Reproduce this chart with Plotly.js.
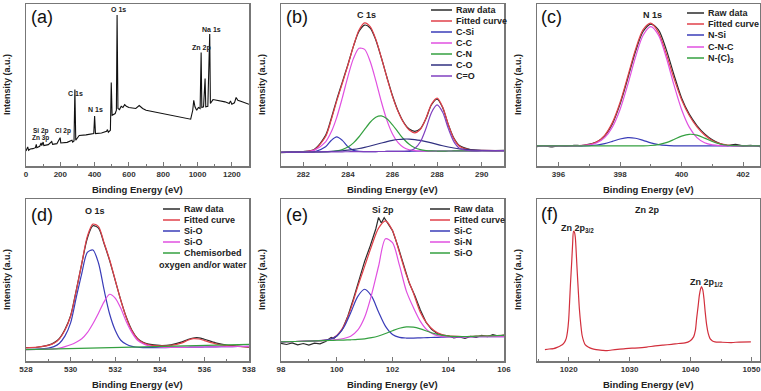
<!DOCTYPE html>
<html>
<head>
<meta charset="utf-8">
<script src="https://cdn.plot.ly/plotly-3.0.1.min.js"></script>
<style>html,body{margin:0;padding:0;background:#fff;}#chart{width:761px;height:391px;}</style>
</head>
<body>
<div id="chart"></div>
<script>
// ---------- (a) survey ----------
const surveyEnergy = [0,10,15,25,40,55,60,63,80,88,92,100,104,130,150,155,180,199,203,240,268,272,280,285,290,300,310,350,395,400,405,440,470,475,480,492,497,502,520,527,531,536,545,555,565,575,585,600,640,660,680,700,800,900,960,972,978,985,995,1005,1015,1021,1025,1035,1044,1048,1060,1071,1075,1090,1120,1160,1185,1192,1200,1215,1225,1235,1260,1300];
const surveyCounts = [9.3,11.8,9.7,10.5,10.7,11.3,13.4,11.3,12.2,14.2,12.6,14.8,12.6,13.2,15.1,13.4,13.8,17.5,14.2,14.6,15.9,14.8,15.5,47.2,15.9,17.5,18.8,19.2,20,30.9,20,20.4,21.4,22.5,20.8,22.1,51.5,31.3,32.4,34.4,93.2,35.5,34.8,36.9,36.1,37.9,36.9,36.1,35.5,37.3,35.5,34.4,32.4,30.3,28.9,34.4,40.6,36.5,34.4,36.1,35.5,70.1,36.1,36.5,54.0,36.5,36.9,81.4,38.6,41.0,40.6,39.6,38.6,40.2,38.1,39.0,42.3,40.6,39.6,38.1];
const surveyLabels = ["O 1s","Na 1s","Zn 2p","C 1s","N 1s","Si 2p","Cl 2p","Zn 3p"];

// ---------- (b) C 1s ----------
const c1sEnergy = [281,281.5,282,282.5,283,283.25,283.5,283.75,284,284.25,284.5,284.75,285,285.25,285.5,285.75,286,286.25,286.5,286.75,287,287.25,287.5,287.75,288,288.25,288.5,288.75,289,289.5,290,291];
const c1sRaw = [8.3,8.6,8.9,10.4,18.9,29.2,41.0,51.8,62.6,74.0,83.2,87.0,85.2,77.8,66.8,54.8,43.4,34.0,27.0,22.8,21.4,23.0,29.2,37.8,41.2,36.0,25.6,17.2,12.6,10.1,9.5,9.6];
const c1sFit = [8.5,8.55,8.74,9.96,18.25,28.4,40.2,51.1,62.2,74.1,83.9,88.3,86.0,78.3,66.9,54.5,43.0,33.6,26.7,22.2,20.5,22.7,29.4,38.3,41.9,36.4,25.7,16.9,12.26,9.96,9.61,9.52];
const c1sCSi = [8.5,8.55,8.6,8.77,11.82,15.75,17.95,15.8,11.92,9.64,8.97,8.89,8.9,8.93,8.95,8.98,9.0,9.03,9.05,9.08,9.1,9.13,9.15,9.18,9.2,9.23,9.25,9.28,9.3,9.35,9.4,9.5];
const c1sCC = [8.5,8.55,8.73,9.8,14.92,20.93,30.05,42.08,55.2,66.43,72.65,71.98,64.5,52.73,39.65,28.18,19.8,14.38,11.43,10.03,9.43,9.23,9.15,9.18,9.2,9.23,9.25,9.28,9.3,9.35,9.4,9.5];
const c1sCN = [8.5,8.55,8.6,8.65,8.77,8.94,9.31,10.14,11.69,14.31,18.05,22.58,27.0,30.13,30.95,29.18,25.4,20.93,16.65,13.39,11.26,10.1,9.53,9.31,9.24,9.23,9.25,9.28,9.3,9.35,9.4,9.5];
const c1sCO = [8.5,8.55,8.61,8.69,8.84,8.97,9.14,9.4,9.74,10.21,10.79,11.51,12.34,13.25,14.17,15.06,15.8,16.35,16.63,16.63,16.33,15.8,15.06,14.23,13.34,12.5,11.74,11.1,10.58,9.91,9.61,9.52];
const c1sCdO = [8.5,8.55,8.6,8.65,8.7,8.73,8.75,8.78,8.8,8.83,8.85,8.88,8.9,8.93,8.95,8.98,9.0,9.03,9.1,9.42,10.78,14.93,23.15,33.08,37.7,33.13,23.25,15.08,10.98,9.4,9.4,9.5];
const c1sNames = ["Raw data","Fitted curve","C-Si","C-C","C-N","C-O","C=O"];

// ---------- (c) N 1s ----------
const n1sRawEnergy = [395.3,395.5,395.75,396,396.25,396.5,396.75,397,397.25,397.5,397.75,398,398.25,398.5,398.75,399,399.25,399.5,399.75,400,400.25,400.5,400.75,401,401.25,401.5,401.75,402,402.25,402.55];
const n1sRaw = [12.0,12.6,11.8,12.5,12.2,12.8,12.6,13.5,15.0,18.6,26.0,38.2,54.0,70.5,83.0,87.6,84.0,72.0,56.5,42.0,32.0,25.0,19.8,16.2,13.8,12.6,13.4,12.3,12.8,11.9];
const n1sEnergy = [395.3,396,396.5,397,397.25,397.5,397.75,398,398.25,398.5,398.75,399,399.25,399.5,399.75,400,400.25,400.5,400.75,401,401.25,401.5,402,402.55];
const n1sFit = [12.4,12.4,12.46,13.22,14.93,18.97,26.78,39.16,55.27,71.81,84.16,88.15,82.34,69.39,54.21,40.92,31.18,24.2,19.17,15.75,13.78,12.85,12.42,12.4];
const n1sNSi = [12.4,12.4,12.41,12.57,12.96,13.82,15.18,16.66,17.47,17.11,15.8,14.31,13.24,12.69,12.48,12.41,12.4,12.4,12.4,12.4,12.4,12.4,12.4,12.4];
const n1sCNC = [12.4,12.4,12.45,13.05,14.37,17.55,24.0,34.9,50.2,67.1,80.7,86.0,80.7,67.1,50.2,34.9,24.0,17.55,14.37,13.05,12.6,12.45,12.4,12.4];
const n1sNC3 = [12.4,12.4,12.4,12.4,12.4,12.4,12.4,12.4,12.4,12.4,12.46,12.64,13.2,14.4,16.33,18.41,19.58,19.05,17.2,15.1,13.58,12.8,12.42,12.4];
const n1sNames = ["Raw data","Fitted curve","N-Si","C-N-C","N-(C)<sub>3</sub>"];

// ---------- (d) O 1s ----------
const o1sEnergy = [528,528.5,529,529.25,529.5,529.75,530,530.25,530.5,530.75,531,531.25,531.5,531.75,532,532.25,532.5,532.75,533,533.25,533.5,534,534.5,535,535.25,535.5,535.75,536,536.5,537,537.5,538];
const o1sRaw = [8.3,8.5,9.8,11.2,14.0,19.6,28.0,43.5,60.0,75.8,83.5,82.0,72.5,62.0,49.8,37.6,27.0,19.0,14.0,11.6,10.4,9.6,10.0,11.8,13.2,14.2,14.3,13.4,11.2,9.8,9.2,8.6];
const o1sFit = [8.1,8.6,9.6,10.9,13.7,19.1,27.6,43.2,60.2,76.9,84.5,83.0,73.0,62.5,50.0,37.5,26.6,18.6,13.6,11.2,10.0,9.3,9.6,11.2,12.8,13.8,13.6,12.6,10.6,9.5,9.0,8.7];
const o1sSiOa = [7.1,7.4,8.0,8.9,11.0,15.5,23.5,39.0,54.0,67.0,68.5,60.5,44.0,29.0,19.0,12.8,10.3,9.0,8.5,8.3,8.25,8.25,8.35,8.45,8.5,8.55,8.6,8.65,8.75,8.85,8.95,9.05];
const o1sSiOb = [7.0,7.1,7.3,7.5,8.0,8.9,10.0,11.6,13.7,17.5,23.0,29.5,36.5,41.2,38.8,32.5,24.2,17.5,12.8,10.6,9.4,8.6,8.4,8.45,8.5,8.55,8.6,8.65,8.75,8.85,8.95,9.05];
const o1sChemEnergy = [528,533,538];
const o1sChem = [7.0,8.65,10.3];
const o1sNames = ["Raw data","Fitted curve","Si-O","Si-O","Chemisorbed"];

// ---------- (e) Si 2p ----------
const si2pRawEnergy = [98,98.2,98.4,98.6,98.8,99.0,99.2,99.4,99.6,99.8,99.9,100.0,100.2,100.4,100.6,100.8,101.0,101.2,101.4,101.5,101.6,101.7,101.8,102.0,102.2,102.4,102.6,102.8,103.0,103.2,103.4,103.6,103.8,104.0,104.2,104.4,104.6,104.8,105.0,105.2,105.4,105.6,105.8,106];
const si2pRaw = [10.9,10.2,11.2,10.0,10.8,9.8,11.0,10.6,12.0,14.6,14.0,15.4,19.5,27.8,38.5,50.8,61.5,71.0,81.5,88.6,85.2,88.4,86.0,80.5,70.5,58.5,48.2,40.5,31.5,24.0,19.5,17.0,16.0,15.6,14.2,14.8,13.9,15.2,14.6,15.8,15.0,16.3,15.4,16.0];
const si2pEnergy = [98,98.5,99,99.5,99.75,100,100.25,100.5,100.75,101,101.25,101.5,101.75,102,102.25,102.5,102.75,103,103.25,103.5,103.75,104,104.5,105,105.5,106];
const si2pFit = [11.8,12.05,12.3,12.72,13.45,15.82,21.63,32.05,45.75,58.41,71.0,82.0,86.51,80.51,67.0,53.0,42.0,30.01,22.92,18.7,16.48,15.48,15.13,15.3,15.55,15.8];
const si2pSiC = [11.8,12.05,12.3,12.67,13.33,15.42,20.66,29.75,39.78,44.3,40.03,30.25,21.41,16.42,14.58,14.17,14.18,14.3,14.43,14.55,14.68,14.8,14.9,15.0,15.0,15.0];
const si2pSiN = [11.8,12.05,12.3,12.6,12.8,13.2,13.9,15.3,19.0,27.0,41.0,58.5,75.5,73.0,59.0,43.0,33.0,24.5,19.0,16.3,15.2,14.9,14.9,15.0,15.0,15.0];
const si2pSiO = [11.8,12.05,12.3,12.55,12.68,12.8,12.93,13.1,13.33,13.71,14.38,15.45,16.96,18.69,20.22,21.05,20.86,19.81,18.35,16.95,15.96,15.38,15.13,15.3,15.55,15.8];
const si2pNames = ["Raw data","Fitted curve","Si-C","Si-N","Si-O"];

// ---------- (f) Zn 2p ----------
const zn2pEnergy = [1016.1,1016.8,1017.5,1018.1,1018.6,1019.0,1019.35,1019.6,1019.8,1020.0,1020.15,1020.3,1020.5,1020.65,1020.8,1020.95,1021.1,1021.25,1021.4,1021.6,1021.75,1022.0,1022.2,1022.45,1022.7,1023.2,1023.8,1024.5,1025.5,1026.3,1027.1,1028.0,1029.3,1030.4,1031.5,1032.8,1034.2,1035.5,1036.9,1038.0,1039.1,1039.9,1040.5,1040.8,1041.0,1041.25,1041.45,1041.65,1041.8,1042.0,1042.2,1042.4,1042.65,1042.9,1043.2,1043.6,1044.0,1045.0,1046.7,1048.0,1049.9];
const zn2pCounts = [7.0,7.4,7.6,8.4,9.3,10.2,11.8,14.0,18.0,25.5,36.6,48.0,61.4,72.5,80.0,79.5,75.8,66.0,55.2,42.0,32.4,22.0,15.9,12.3,10.1,8.6,7.6,7.0,6.6,6.4,6.8,7.2,7.6,7.9,8.1,8.6,9.3,9.8,10.3,10.8,11.2,12.4,14.9,19.0,26.2,34.0,40.7,44.5,45.9,44.0,38.6,30.5,22.1,17.0,13.8,12.4,11.8,11.6,11.4,11.7,11.8];
const zn2pLabels = ["Zn 2p<sub>3/2</sub>","Zn 2p<sub>1/2</sub>"];

const panelTitles = ["C 1s","N 1s","O 1s","Si 2p","Zn 2p"];
const panelLetters = ["(a)","(b)","(c)","(d)","(e)","(f)"];

// ---------- styling ----------
const W = 761, H = 391;
const FONT = "Liberation Sans, Arial, sans-serif";
const COL = {raw:"#2b2b2b", fit:"#e0404a", blue:"#3a3cb8", mag:"#e050e0", green:"#34a040", navy:"#303080", purple:"#8040c0", zn:"#d22f3c"};
const px = x => x / W, py = y => 1 - y / H;

function tr(x, y, ax, color, shape, name) {
  return {x: x, y: y, xaxis: "x" + ax, yaxis: "y" + ax, type: "scatter", mode: "lines", name: name,
    line: {color: color, width: 1.2, shape: shape || "spline", smoothing: 0.8}, hoverinfo: "skip", showlegend: false};
}

const data = [
  Object.assign(tr(surveyEnergy, surveyCounts, "", "#111", "linear"), {line:{color:"#111", width:1.1}}),

  tr(c1sEnergy, c1sRaw, 2, COL.raw), tr(c1sEnergy, c1sFit, 2, COL.fit),
  tr(c1sEnergy, c1sCSi, 2, COL.blue), tr(c1sEnergy, c1sCC, 2, COL.mag), tr(c1sEnergy, c1sCN, 2, COL.green),
  tr(c1sEnergy, c1sCO, 2, COL.navy), tr(c1sEnergy, c1sCdO, 2, COL.purple),

  tr(n1sRawEnergy, n1sRaw, 3, COL.raw), tr(n1sEnergy, n1sFit, 3, COL.fit),
  tr(n1sEnergy, n1sNSi, 3, COL.blue), tr(n1sEnergy, n1sCNC, 3, COL.mag), tr(n1sEnergy, n1sNC3, 3, COL.green),

  tr(o1sEnergy, o1sRaw, 4, COL.raw), tr(o1sEnergy, o1sFit, 4, COL.fit),
  tr(o1sEnergy, o1sSiOa, 4, COL.blue), tr(o1sEnergy, o1sSiOb, 4, COL.mag), tr(o1sChemEnergy, o1sChem, 4, COL.green, "linear"),

  tr(si2pRawEnergy, si2pRaw, 5, COL.raw, "linear"), tr(si2pEnergy, si2pFit, 5, COL.fit),
  tr(si2pEnergy, si2pSiC, 5, COL.blue), tr(si2pEnergy, si2pSiN, 5, COL.mag), tr(si2pEnergy, si2pSiO, 5, COL.green),

  tr(zn2pEnergy, zn2pCounts, 6, COL.zn)
];

const colX = [[26/W, 249/W], [281/W, 504/W], [537/W, 760/W]];
const rowY = [[1-166/H, 1-4/H], [1-361/H, 1-199/H]];
const xRanges = [[0,1300],[281,291],[395.3,402.55],[528,538],[98,106],[1014.8,1051.4]];
const dticks = [200,2,2,2,2,10];

const layout = {width: W, height: H, margin:{l:0,r:0,t:0,b:0}, paper_bgcolor:"#fff", plot_bgcolor:"#fff",
  showlegend:false, font:{family:FONT}, annotations:[], shapes:[]};

for (let i = 0; i < 6; i++) {
  const s = i === 0 ? "" : String(i+1);
  const col = i % 3, row = i < 3 ? 0 : 1;
  layout["xaxis"+s] = {domain: colX[col], anchor: "y"+s, range: xRanges[i], dtick: dticks[i],
    showline:true, mirror:true, linecolor:"#777", linewidth:1.5, ticks:"inside", ticklen:4, tickwidth:1, tickcolor:"#777",
    minor:{ticks:"inside", ticklen:2, dtick: dticks[i]/2, tickcolor:"#777"},
    showgrid:false, zeroline:false, tickfont:{size:8, color:"#333", family:FONT, weight:"bold"}, fixedrange:true};
  layout["yaxis"+s] = {domain: rowY[row], anchor: "x"+s, range:[0,100], showline:true, mirror:true,
    linecolor:"#777", linewidth:1.5, showticklabels:false, ticks:"", showgrid:false, zeroline:false, fixedrange:true};
}

function ann(text, x, y, size, opts) {
  layout.annotations.push(Object.assign({text:text, xref:"paper", yref:"paper", x:px(x), y:py(y), showarrow:false,
    xanchor:"center", yanchor:"middle", font:{family:FONT, size:size, color:"#222", weight:"bold"}}, opts||{}));
}

// panel letters
const letterPos = [[42,17],[297,17],[551,17],[42,215],[297,215],[549,214]];
panelLetters.forEach((t,i)=>ann(t, letterPos[i][0], letterPos[i][1], 18, {font:{family:FONT,size:18,color:"#111"}}));

// axis titles
[137.5, 392.5, 648.5].forEach(cx => { ann("Binding Energy (eV)", cx, 189, 9.5); ann("Binding Energy (eV)", cx, 384.5, 9.5); });
[7, 262, 518].forEach(cx => { ann("Intensity (a.u.)", cx, 85, 9, {textangle:-90}); ann("Intensity (a.u.)", cx, 280, 9, {textangle:-90}); });

// survey peak labels
const surveyLabelPos = [[118,10],[211,29],[201,48],[75,93],[96,109],[41,131],[63,131],[40,138]];
const surveyLabelSize = [7,7,7,7,7,6.5,6.5,6.5];
surveyLabels.forEach((t,i)=>ann(t, surveyLabelPos[i][0], surveyLabelPos[i][1], surveyLabelSize[i]));

// panel core-level titles
const titlePos = [[366,15],[652,15],[95,211],[383,210],[647,210]];
panelTitles.forEach((t,i)=>ann(t, titlePos[i][0], titlePos[i][1], 9));
ann(zn2pLabels[0], 577, 228, 9);
ann(zn2pLabels[1], 706, 282, 9);

// legends
function legend(names, colors, x0, x1, tx, ys) {
  names.forEach((n,i)=>{
    layout.shapes.push({type:"line", xref:"paper", yref:"paper", x0:px(x0), x1:px(x1), y0:py(ys[i]), y1:py(ys[i]), line:{color:colors[i], width:1.5}});
    ann(n, tx, ys[i], 9, {xanchor:"left"});
  });
}
legend(c1sNames, [COL.raw,COL.fit,COL.blue,COL.mag,COL.green,COL.navy,COL.purple], 431, 452, 454, [10,21,32,43,54,65,76]);
legend(n1sNames, [COL.raw,COL.fit,COL.blue,COL.mag,COL.green], 687, 704, 706, [13,24,35,47,58]);
legend(o1sNames, [COL.raw,COL.fit,COL.blue,COL.mag,COL.green], 163, 180, 182, [209,220,231,242,253]);
ann("oxygen and/or water", 157, 265, 9, {xanchor:"left"});
legend(si2pNames, [COL.raw,COL.fit,COL.blue,COL.mag,COL.green], 430, 450, 452, [209,220,231,242,253]);

Plotly.newPlot("chart", data, layout, {staticPlot:true, displayModeBar:false});
</script>
</body>
</html>
